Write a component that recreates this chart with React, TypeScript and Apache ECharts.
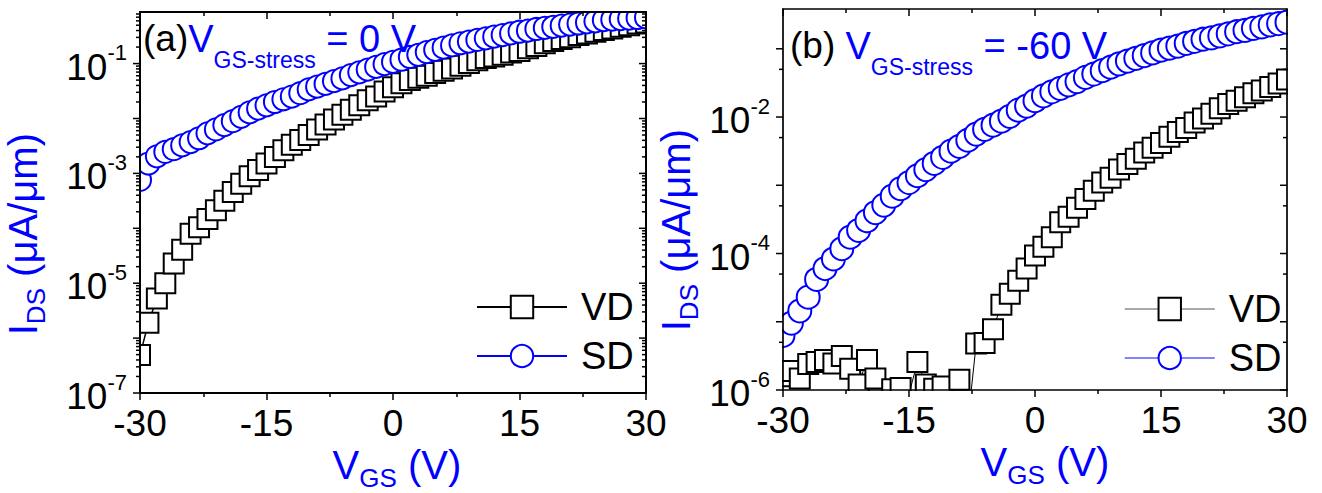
import React, { useEffect, useRef } from 'react';
import * as echarts from 'echarts';

// Gate voltage sweep (V)
const VGS = [
  -30, -29, -28, -27, -26, -25, -24, -23, -22, -21,
  -20, -19, -18, -17, -16, -15, -14, -13, -12, -11,
  -10, -9, -8, -7, -6, -5, -4, -3, -2, -1,
  0, 1, 2, 3, 4, 5, 6, 7, 8, 9,
  10, 11, 12, 13, 14, 15, 16, 17, 18, 19,
  20, 21, 22, 23, 24, 25, 26, 27, 28, 29, 30,
];

// log10 of I_DS (uA/um)
// (a) V_GS-stress = 0 V
const vdA_log10 = [
  -6.31, -5.72, -5.28, -5.0, -4.64, -4.39, -4.1, -3.98, -3.83, -3.67,
  -3.5, -3.34, -3.19, -3.05, -2.94, -2.82, -2.7, -2.58, -2.48, -2.39,
  -2.3, -2.2, -2.11, -2.02, -1.93, -1.84, -1.76, -1.67, -1.6, -1.51,
  -1.43, -1.36, -1.3, -1.26, -1.22, -1.17, -1.13, -1.09, -1.04, -0.99,
  -0.94, -0.9, -0.87, -0.84, -0.8, -0.77, -0.72, -0.68, -0.63, -0.59,
  -0.55, -0.52, -0.48, -0.45, -0.42, -0.39, -0.36, -0.33, -0.3, -0.27, -0.25,
];
const sdA_log10 = [
  -3.12, -2.82, -2.69, -2.61, -2.56, -2.49, -2.43, -2.36, -2.27, -2.2,
  -2.12, -2.05, -1.97, -1.89, -1.82, -1.76, -1.7, -1.65, -1.6, -1.54,
  -1.47, -1.42, -1.37, -1.32, -1.27, -1.21, -1.16, -1.11, -1.06, -1.01,
  -0.97, -0.93, -0.88, -0.84, -0.79, -0.75, -0.71, -0.67, -0.63, -0.6,
  -0.57, -0.54, -0.51, -0.48, -0.45, -0.42, -0.4, -0.37, -0.35, -0.33,
  -0.31, -0.29, -0.27, -0.25, -0.23, -0.21, -0.2, -0.19, -0.18, -0.17, -0.16,
];
// (b) V_GS-stress = -60 V
const vdB_log10 = [
  -5.8, -5.72, -5.83, -5.62, -5.59, -5.56, -5.61, -5.5, -5.69, -5.92,
  -5.56, -5.83, -6.02, -5.99, -5.97, -6.06, -5.59, -5.92, -5.98, -5.95,
  -6.04, -5.85, -6.48, -5.32, -5.31, -5.11, -4.75, -4.59, -4.4, -4.22,
  -4.03, -3.9, -3.76, -3.54, -3.46, -3.33, -3.2, -3.08, -2.96, -2.89,
  -2.77, -2.69, -2.61, -2.52, -2.45, -2.38, -2.29, -2.22, -2.16, -2.08,
  -2.02, -1.95, -1.87, -1.81, -1.76, -1.71, -1.65, -1.61, -1.56, -1.51, -1.45,
];
const sdB_log10 = [
  -5.2, -5.02, -4.84, -4.64, -4.38, -4.22, -4.08, -3.93, -3.76, -3.66,
  -3.52, -3.4, -3.29, -3.16, -3.05, -2.96, -2.86, -2.77, -2.68, -2.59,
  -2.5, -2.43, -2.34, -2.25, -2.18, -2.12, -2.06, -1.99, -1.9, -1.84,
  -1.76, -1.69, -1.63, -1.58, -1.53, -1.48, -1.42, -1.37, -1.32, -1.27,
  -1.22, -1.18, -1.14, -1.1, -1.06, -1.02, -0.99, -0.96, -0.92, -0.89,
  -0.86, -0.84, -0.81, -0.78, -0.75, -0.73, -0.7, -0.68, -0.65, -0.63, -0.61,
];

// Axis ranges and tick labels
const X_MIN = -30;
const X_MAX = 30;
const X_INTERVAL = 15;
const Y_MIN_A = 1e-7;
const Y_MAX_A = 0.87;
const Y_MIN_B = 1e-6;
const Y_MAX_B = 0.383;
const yLabelExpA = [-7, -5, -3, -1];
const yLabelExpB = [-6, -4, -2];
const minorMultA = [2, 3, 4, 5, 6, 7, 8, 9];
const minorMultB = [5];

const FONT = "'Liberation Sans', Arial, Helvetica, sans-serif";
const BLUE = '#0000ff';

function toPairs(logs: number[]) {
  return VGS.map((v, i) => [v, Math.pow(10, logs[i])]);
}

function logTicks(minExp: number, maxVal: number, mults: number[]) {
  const out: number[][] = [];
  for (let e = minExp; Math.pow(10, e) <= maxVal; e++) {
    const base = Math.pow(10, e);
    out.push([X_MIN, base, 1]);
    for (const m of mults) {
      const v = m * base;
      if (v <= maxVal) out.push([X_MIN, v, 0]);
    }
  }
  return out;
}

function logLabelFormatter(show: number[]) {
  return (v: number) => {
    const e = Math.log10(v);
    const r = Math.round(e);
    if (Math.abs(e - r) > 1e-6 || show.indexOf(r) < 0) return '';
    return `{b|10}{s|${r}}`;
  };
}

const yLabelRich = {
  b: { fontSize: 37, lineHeight: 44, verticalAlign: 'bottom', fontFamily: FONT, color: '#000' },
  s: { fontSize: 22, lineHeight: 22, verticalAlign: 'top', fontFamily: FONT, color: '#000' },
};

function xAxes(gridIndex: number, lw: number) {
  const common = {
    gridIndex,
    type: 'value',
    min: X_MIN,
    max: X_MAX,
    interval: X_INTERVAL,
    z: 5,
    splitLine: { show: false },
    minorSplitLine: { show: false },
    axisLine: { show: true, onZero: false, lineStyle: { color: '#000', width: lw } },
  };
  return [
    {
      ...common,
      position: 'bottom',
      axisTick: { show: true, inside: false, length: 7, lineStyle: { color: '#000', width: 1.5 } },
      minorTick: { show: true, splitNumber: 2, length: 4, lineStyle: { color: '#000', width: 1.5 } },
      axisLabel: {
        show: true,
        margin: 12,
        fontSize: 37,
        fontFamily: FONT,
        color: '#000',
        formatter: (v: number) => String(v),
      },
    },
    {
      ...common,
      position: 'top',
      axisTick: { show: true, inside: true, length: 7, lineStyle: { color: '#000', width: 1.5 } },
      minorTick: { show: true, splitNumber: 2, length: 4, lineStyle: { color: '#000', width: 1.5 } },
      axisLabel: { show: false },
    },
  ];
}

function yAxes(gridIndex: number, min: number, max: number, show: number[], lw: number) {
  const common = {
    gridIndex,
    type: 'log',
    logBase: 10,
    min,
    max,
    z: 5,
    splitLine: { show: false },
    axisTick: { show: false },
    axisLine: { show: true, onZero: false, lineStyle: { color: '#000', width: lw } },
  };
  return [
    {
      ...common,
      position: 'left',
      axisLabel: {
        show: true,
        margin: 13,
        formatter: logLabelFormatter(show),
        rich: yLabelRich,
      },
    },
    { ...common, position: 'right', axisLabel: { show: false } },
  ];
}

function tickSeries(xAxisIndex: number, yAxisIndex: number, data: number[][]) {
  return {
    type: 'custom',
    xAxisIndex,
    yAxisIndex,
    z: 6,
    silent: true,
    clip: false,
    encode: { x: 0, y: 1 },
    data,
    renderItem: (_params: any, api: any) => {
      const v = api.value(1);
      const major = api.value(2) === 1;
      const pL = api.coord([X_MIN, v]);
      const pR = api.coord([X_MAX, v]);
      const len = major ? 7 : 4;
      const style = { stroke: '#000', lineWidth: 1.5 };
      return {
        type: 'group',
        children: [
          { type: 'line', shape: { x1: pL[0] - len, y1: pL[1], x2: pL[0], y2: pL[1] }, style },
          { type: 'line', shape: { x1: pR[0] - len, y1: pR[1], x2: pR[0], y2: pR[1] }, style },
        ],
      };
    },
  };
}

function dataSeries(name: string, xi: number, yi: number, logs: number[], kind: 'vd' | 'sd', lineW: number, size: number) {
  const isVD = kind === 'vd';
  return {
    type: 'line',
    name,
    xAxisIndex: xi,
    yAxisIndex: yi,
    data: toPairs(logs),
    symbol: isVD ? 'rect' : 'circle',
    symbolSize: size,
    showSymbol: true,
    clip: true,
    z: 2,
    lineStyle: { color: isVD ? '#000' : BLUE, width: lineW },
    itemStyle: { color: '#fff', borderColor: isVD ? '#000' : BLUE, borderWidth: 2 },
    emphasis: { disabled: true },
  };
}

const titleRich = {
  k: { fontSize: 37, lineHeight: 38, verticalAlign: 'top', fontFamily: FONT, fill: '#000' },
  v: { fontSize: 38, lineHeight: 38, verticalAlign: 'top', fontFamily: FONT, fill: BLUE },
  s: { fontSize: 23, lineHeight: 23, verticalAlign: 'bottom', fontFamily: FONT, fill: BLUE },
  z: { fontSize: 1, lineHeight: 51, fontFamily: FONT, fill: BLUE },
};
const axisTitleRich = {
  m: { fontSize: 40, lineHeight: 40, verticalAlign: 'top', fontFamily: FONT, fill: BLUE },
  s: { fontSize: 26, lineHeight: 26, verticalAlign: 'bottom', fontFamily: FONT, fill: BLUE },
  z: { fontSize: 1, lineHeight: 46, fontFamily: FONT, fill: BLUE },
};

function mask(x: number, y: number, w: number, h: number) {
  return { type: 'rect', z: 3, silent: true, shape: { x, y, width: w, height: h }, style: { fill: '#fff' } };
}

function legend(left: number, top: number, vdLine: any, sdLine: any) {
  return {
    orient: 'vertical',
    left,
    top,
    itemWidth: 90,
    itemHeight: 28,
    itemGap: 11,
    selectedMode: false,
    z: 8,
    textStyle: { fontSize: 38, fontFamily: FONT, color: '#000', padding: [0, 0, 0, 9] },
    data: [
      { name: 'VD', lineStyle: vdLine },
      { name: 'SD', lineStyle: sdLine },
    ],
  };
}

export default function App() {
  const ref = useRef<HTMLDivElement>(null);
  useEffect(() => {
    if (!ref.current) return;
    const chart = echarts.init(ref.current, null, { renderer: 'svg' });
    const option: any = {
      animation: false,
      backgroundColor: '#fff',
      grid: [
        { left: 140, top: 12, width: 506, height: 381 },
        { left: 783, top: 9, width: 504, height: 381 },
      ],
      xAxis: [...xAxes(0, 2), ...xAxes(1, 1.7)],
      yAxis: [
        ...yAxes(0, Y_MIN_A, Y_MAX_A, yLabelExpA, 2),
        ...yAxes(1, Y_MIN_B, Y_MAX_B, yLabelExpB, 1.7),
      ],
      legend: [
        legend(471, 283, { color: '#000', width: 2 }, { color: BLUE, width: 2 }),
        legend(1119, 285, { color: '#555', width: 1.2 }, { color: '#5a5aff', width: 1.5 }),
      ],
      series: [
        dataSeries('VD', 0, 0, vdA_log10, 'vd', 1.5, 20),
        dataSeries('SD', 0, 0, sdA_log10, 'sd', 1.5, 22),
        dataSeries('VD', 2, 2, vdB_log10, 'vd', 1, 20),
        dataSeries('SD', 2, 2, sdB_log10, 'sd', 1, 23),
        tickSeries(0, 0, logTicks(-7, Y_MAX_A, minorMultA)),
        tickSeries(2, 2, logTicks(-6, Y_MAX_B, minorMultB)),
      ],
      graphic: {
        elements: [
          mask(100, 0, 580, 11),
          mask(100, 394, 580, 14),
          mask(110, 0, 29, 410),
          mask(647, 0, 22, 410),
          mask(755, 0, 560, 8),
          mask(755, 391, 560, 14),
          mask(755, 0, 27, 405),
          mask(1288, 0, 30, 405),
          {
            type: 'text', x: 143, y: 20, z: 10, silent: true,
            style: { text: '{k|(a)}{v|V}{s|GS-stress}{v| = 0 V}{z| }', rich: titleRich, align: 'left', verticalAlign: 'top' },
          },
          {
            type: 'text', x: 790, y: 27, z: 10, silent: true,
            style: { text: '{k|(b) }{v|V}{s|GS-stress}{v| = -60 V}{z| }', rich: titleRich, align: 'left', verticalAlign: 'top' },
          },
          {
            type: 'text', x: 397, y: 445, z: 10, silent: true,
            style: { text: '{m|V}{s|GS}{m| (V)}{z| }', rich: axisTitleRich, align: 'center', verticalAlign: 'top' },
          },
          {
            type: 'text', x: 1045, y: 442, z: 10, silent: true,
            style: { text: '{m|V}{s|GS}{m| (V)}{z| }', rich: axisTitleRich, align: 'center', verticalAlign: 'top' },
          },
          {
            type: 'text', x: 26, y: 234, z: 10, silent: true, rotation: Math.PI / 2,
            style: { text: '{m|I}{s|DS}{m| (μA/μm)}{z| }', rich: axisTitleRich, align: 'center', verticalAlign: 'middle' },
          },
          {
            type: 'text', x: 679, y: 230, z: 10, silent: true, rotation: Math.PI / 2,
            style: { text: '{m|I}{s|DS}{m| (μA/μm)}{z| }', rich: axisTitleRich, align: 'center', verticalAlign: 'middle' },
          },
        ],
      },
    };
    chart.setOption(option);
    return () => chart.dispose();
  }, []);
  return (
    <div
      ref={ref}
      style={{ position: 'fixed', left: 0, top: 0, width: 1322, height: 493, background: '#fff' }}
    />
  );
}
